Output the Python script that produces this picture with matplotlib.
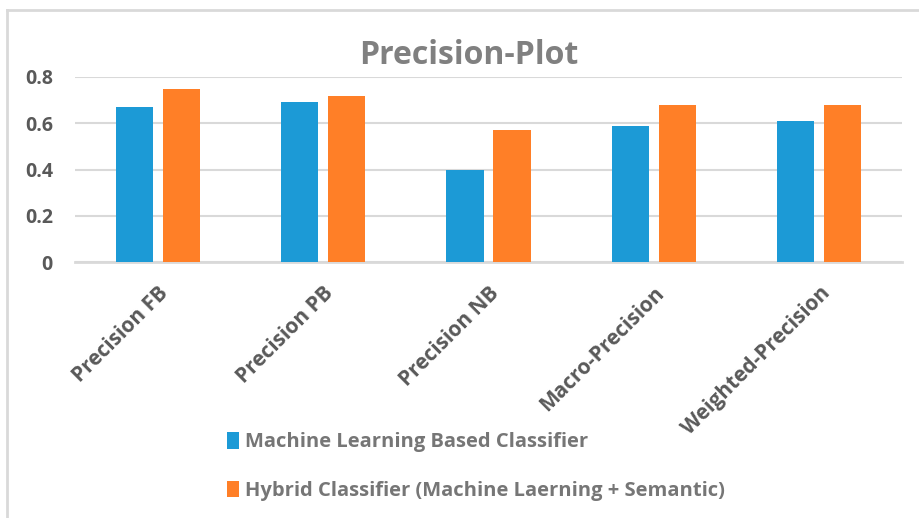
import matplotlib
matplotlib.use('agg')
import matplotlib.pyplot as plt
from matplotlib.lines import Line2D
from matplotlib.patches import Patch
import numpy as np

categories = ['Precision FB', 'Precision PB', 'Precision NB',
              'Macro-Precision', 'Weighted-Precision']
ml_values = [0.67, 0.69, 0.40, 0.59, 0.61]
hybrid_values = [0.75, 0.72, 0.57, 0.68, 0.68]
series_names = ['Machine Learning Based Classifier',
                'Hybrid Classifier (Machine Laerning + Semantic)']
y_ticks = [0, 0.2, 0.4, 0.6, 0.8]
y_tick_labels = ['0', '0.2', '0.4', '0.6', '0.8']

BLUE = '#1c9ad6'
ORANGE = '#ff7f27'
GRID = '#d9d9d9'

plt.rcParams['font.family'] = ['Open Sans', 'DejaVu Sans']
plt.rcParams['font.weight'] = 'bold'

W, H = 919, 518
fig = plt.figure(figsize=(W / 100, H / 100), dpi=100)
ax = fig.add_axes([75 / W, 1 - 262 / H, 827 / W, 185 / H])

x = np.arange(len(categories))
width = 0.224
off = 0.142
ax.bar(x - off, ml_values, width, color=BLUE, label=series_names[0], zorder=3)
ax.bar(x + off, hybrid_values, width, color=ORANGE, label=series_names[1], zorder=3)

ax.set_xlim(-0.5, len(categories) - 0.5)
ax.set_ylim(0, 0.8)
ax.set_yticks(y_ticks)
ax.set_yticklabels(y_tick_labels, fontsize=14, color='#595959', fontweight='bold')
ax.set_xticks(x)
ax.set_xticklabels(categories, rotation=45, ha='right', rotation_mode='anchor',
                   fontsize=15, color='#595959', fontweight='bold')
ax.tick_params(axis='y', length=0, pad=16)
ax.tick_params(axis='x', length=0, pad=15)

ax.yaxis.grid(True, color=GRID, linewidth=1.5, zorder=0)
for s in ['top', 'right', 'left']:
    ax.spines[s].set_visible(False)
ax.spines['bottom'].set_color(GRID)
ax.spines['bottom'].set_linewidth(2)

fig.text(469 / W, 1 - 56 / H, 'Precision-Plot', ha='center', va='center',
         fontsize=23, fontweight='bold', color='#808080')

handles = [Patch(facecolor=BLUE), Patch(facecolor=ORANGE)]
fig.legend(handles, series_names, loc='upper left',
           bbox_to_anchor=(227 / W, 1 - 432 / H), frameon=False,
           handlelength=0.6, handleheight=0.9, handletextpad=0.3,
           labelspacing=1.4, borderaxespad=0, borderpad=0,
           prop={'size': 14.5, 'weight': 'bold'}, labelcolor='#767676')

# outer chart border (only top and left visible in the crop)
fig.add_artist(Line2D([7 / W, 1.0], [1 - 10 / H, 1 - 10 / H], color=GRID,
                      linewidth=2, transform=fig.transFigure))
fig.add_artist(Line2D([7 / W, 7 / W], [0, 1 - 10 / H], color=GRID,
                      linewidth=2, transform=fig.transFigure))

fig.savefig('out.png', dpi=100, facecolor='white')
